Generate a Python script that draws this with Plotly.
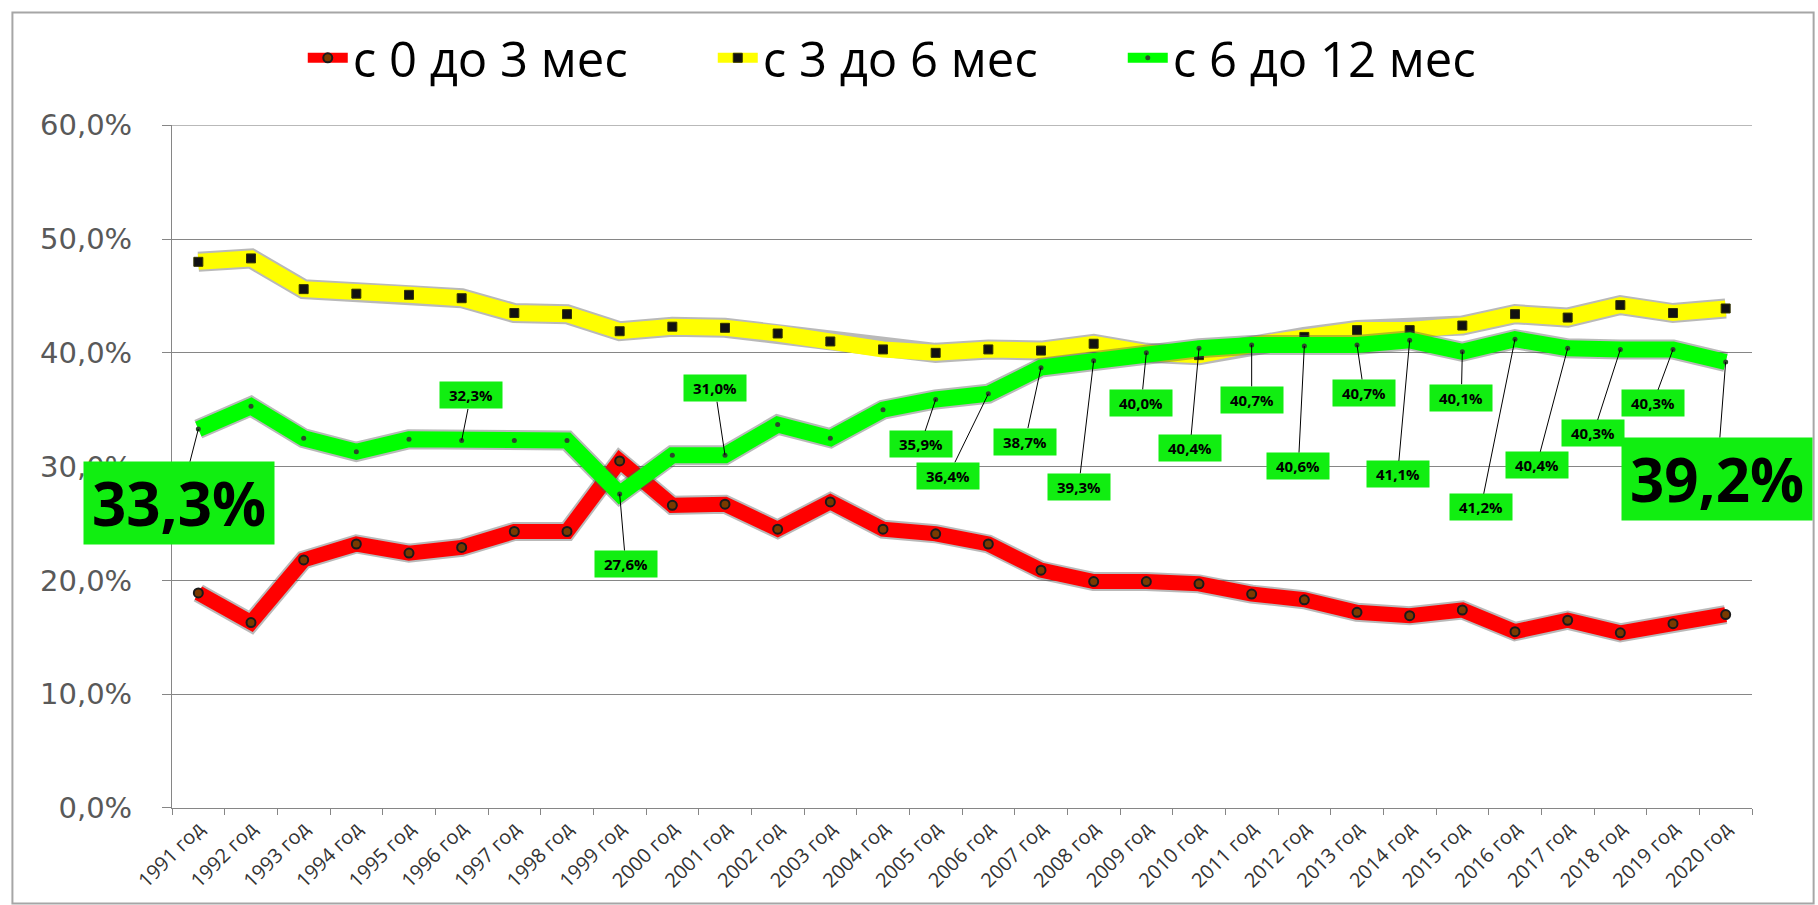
import plotly.graph_objects as go

years = ["1991 год", "1992 год", "1993 год", "1994 год", "1995 год", "1996 год",
         "1997 год", "1998 год", "1999 год", "2000 год", "2001 год", "2002 год",
         "2003 год", "2004 год", "2005 год", "2006 год", "2007 год", "2008 год",
         "2009 год", "2010 год", "2011 год", "2012 год", "2013 год", "2014 год",
         "2015 год", "2016 год", "2017 год", "2018 год", "2019 год", "2020 год"]

s_0_3 = [18.9, 16.3, 21.8, 23.2, 22.4, 22.9, 24.3, 24.3, 30.5, 26.6,
         26.7, 24.5, 26.9, 24.5, 24.1, 23.2, 20.9, 19.9, 19.9, 19.7,
         18.8, 18.3, 17.2, 16.9, 17.4, 15.5, 16.5, 15.4, 16.2, 17.0]

s_3_6 = [48.0, 48.3, 45.6, 45.2, 45.1, 44.8, 43.5, 43.4, 41.9, 42.3,
         42.2, 41.7, 41.0, 40.3, 40.0, 40.3, 40.2, 40.8, 40.0, 39.8,
         40.7, 41.4, 42.0, 42.0, 42.4, 43.4, 43.1, 44.2, 43.5, 43.9]

s_6_12 = [33.3, 35.3, 32.5, 31.3, 32.4, 32.3, 32.3, 32.3, 27.6, 31.0,
          31.0, 33.7, 32.5, 35.0, 35.9, 36.4, 38.7, 39.3, 40.0, 40.4,
          40.7, 40.6, 40.7, 41.1, 40.1, 41.2, 40.4, 40.3, 40.3, 39.2]

names = ["с 0 до 3 мес", "с 3 до 6 мес", "с 6 до 12 мес"]

y_ticks = [0, 10, 20, 30, 40, 50, 60]
y_ticktext = ["0,0%", "10,0%", "20,0%", "30,0%", "40,0%", "50,0%", "60,0%"]

# label placement (pixel offsets of label box from its point)
label_offsets = {
    0: (-19, 74), 5: (9, -45), 8: (6, 70), 10: (-10, -67), 14: (-15, 45),
    15: (-40, 82), 16: (-16, 74), 17: (-15, 126), 18: (-5, 50), 19: (-9, 100),
    20: (0, 55), 21: (-6, 120), 22: (7, 48), 23: (-12, 134), 24: (-1, 46),
    25: (-34, 168), 26: (-31, 117), 27: (-27, 84), 28: (-20, 54), 29: (-9, 117),
}
big_labels = {0, 29}

fig = go.Figure()

series = [
    (s_0_3, "#FF0000", 15, dict(symbol="circle", size=9, color="#7a3a00",
                                line=dict(color="#1a1a1a", width=2))),
    (s_3_6, "#FFFF00", 16, dict(symbol="square", size=9, color="#111111",
                                line=dict(color="#333300", width=1))),
    (s_6_12, "#00FF00", 16, dict(symbol="circle", size=5, color="#2a4a2a",
                                 line=dict(width=0))),
]

for (vals, col, w, mk), nm in zip(series, names):
    # soft shadow
    fig.add_trace(go.Scatter(
        x=years, y=vals, mode="lines",
        line=dict(color="rgba(80,80,80,0.4)", width=w + 4),
        showlegend=False, hoverinfo="skip"))
    fig.add_trace(go.Scatter(
        x=years, y=vals, mode="lines+markers", name=nm,
        line=dict(color=col, width=w), marker=mk))

annotations = []
for i, (ax, ay) in label_offsets.items():
    txt = f"{s_6_12[i]:.1f}%".replace(".", ",")
    big = i in big_labels
    annotations.append(dict(
        x=years[i], y=s_6_12[i], xref="x", yref="y",
        text=f"<b>{txt}</b>",
        showarrow=True, arrowhead=0, arrowwidth=1, arrowcolor="#000000",
        standoff=0, ax=ax, ay=ay,
        bgcolor="#11EE11", borderpad=2,
        width=186 if big else 58, height=78 if big else 22,
        font=dict(family="Open Sans", size=60 if big else 15, color="#000000"),
    ))

fig.update_layout(
    width=1818, height=905,
    margin=dict(l=172, r=66, t=118, b=97),
    paper_bgcolor="white", plot_bgcolor="white",
    annotations=annotations,
    legend=dict(orientation="h", x=0.472, xanchor="center",
                y=0.936, yref="container", yanchor="middle",
                font=dict(family="Open Sans", size=49, color="#000000"),
                itemwidth=40, entrywidth=355, traceorder="normal",
                bgcolor="rgba(0,0,0,0)"),
    shapes=[
        dict(type="rect", xref="paper", yref="paper",
             x0=-0.101, x1=1.039, y0=-0.14, y1=1.165,
             line=dict(color="#A6A6A6", width=2), layer="below"),
        dict(type="line", xref="paper", yref="y", x0=0, x1=1,
             y0=y_ticks[-1], y1=y_ticks[-1],
             line=dict(color="#868686", width=1), layer="below"),
    ],
    showlegend=True,
)

fig.update_xaxes(
    type="category", range=[-0.5, 29.5],
    showline=True, linecolor="#868686", linewidth=1,
    ticks="outside", tickson="boundaries", ticklen=6, tickcolor="#868686",
    tickangle=-45, showgrid=False,
    tickfont=dict(family="Open Sans", size=20, color="#333333"),
)
fig.update_yaxes(
    range=[0, 60], tickvals=y_ticks, ticktext=y_ticktext,
    showline=True, linecolor="#868686", linewidth=1,
    ticks="outside", ticklen=9, tickcolor="#868686",
    showgrid=True, gridcolor="#868686", gridwidth=1, zeroline=False,
    ticklabelstandoff=24,
    tickfont=dict(family="DejaVu Sans", size=29, color="#595959"),
)

fig.write_html("out.html", config={"displayModeBar": False},
               post_script="document.body.style.margin='0';document.body.style.overflow='hidden';")
